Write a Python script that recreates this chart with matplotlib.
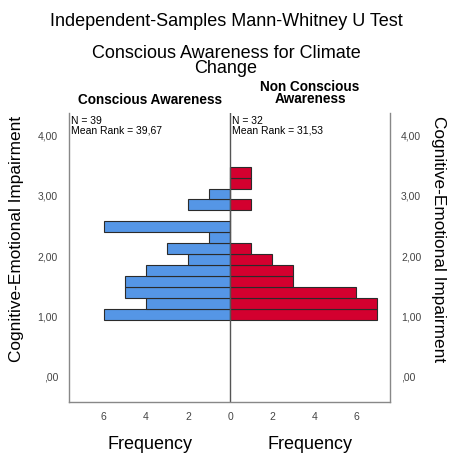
import numpy as np
import matplotlib.pyplot as plt

plt.rcParams['font.family'] = ['Liberation Sans', 'DejaVu Sans']

# histogram counts per bin, bottom to top
bin_start = 0.94
bin_width = 0.182
aware_counts = [6, 4, 5, 5, 4, 2, 3, 1, 6, 0, 2, 1, 0, 0]
non_aware_counts = [7, 7, 6, 3, 3, 2, 1, 0, 0, 0, 1, 0, 1, 1]

x_ticks = [-6, -4, -2, 0, 2, 4, 6]
x_tick_labels = ['6', '4', '2', '0', '2', '4', '6']
y_ticks = [0, 1, 2, 3, 4]
y_tick_labels = [',00', '1,00', '2,00', '3,00', '4,00']

aware_note = 'N = 39\nMean Rank = 39,67'
non_aware_note = 'N = 32\nMean Rank = 31,53'

fig = plt.figure(figsize=(4.52, 4.55), dpi=100)
ax = fig.add_axes([0.1527, 0.1165, 0.7101, 0.6351])

bottoms = bin_start + bin_width * np.arange(len(aware_counts))
ax.barh(bottoms, -np.array(aware_counts), height=bin_width, align='edge',
        color='#5596e6', edgecolor='#2b2b2b', linewidth=0.8)
ax.barh(bottoms, non_aware_counts, height=bin_width, align='edge',
        color='#d3002f', edgecolor='#2b2b2b', linewidth=0.8)

ax.axvline(0, color='#555555', linewidth=1.0)

ax.set_xlim(-7.65, 7.6)
ax.set_ylim(-0.42, 4.377)

ax.set_xticks(x_ticks)
ax.set_xticklabels(x_tick_labels)
ax.set_yticks(y_ticks)
ax.set_yticklabels(y_tick_labels)
ax.tick_params(axis='both', length=0, labelsize=7.5, labelcolor='#444444', pad=7)
ax.tick_params(axis='y', labelleft=True, labelright=True, pad=8)

for side in ['left', 'right', 'bottom']:
    ax.spines[side].set_color('#888888')
    ax.spines[side].set_linewidth(1.0)
ax.spines['top'].set_visible(False)

ax.text(-7.55, 4.33, aware_note, fontsize=7.5, va='top', ha='left', linespacing=0.95)
ax.text(0.1, 4.33, non_aware_note, fontsize=7.5, va='top', ha='left', linespacing=0.95)

fig.text(0.5, 0.952, 'Independent-Samples Mann-Whitney U Test', fontsize=13,
         ha='center', va='center')
fig.text(0.5, 0.866, 'Conscious Awareness for Climate\nChange', fontsize=13,
         ha='center', va='center', linespacing=0.85)
fig.text(0.332, 0.780, 'Conscious Awareness', fontsize=9.8, fontweight='bold',
         ha='center', va='center')
fig.text(0.686, 0.795, 'Non Conscious\nAwareness', fontsize=9.8, fontweight='bold',
         ha='center', va='center', linespacing=0.85)

fig.text(0.036, 0.475, 'Cognitive-Emotional Impairment', fontsize=12.4,
         rotation=90, ha='center', va='center')
fig.text(0.97, 0.475, 'Cognitive-Emotional Impairment', fontsize=12.4,
         rotation=270, ha='center', va='center')

fig.text(0.332, 0.022, 'Frequency', fontsize=13, ha='center', va='center')
fig.text(0.686, 0.022, 'Frequency', fontsize=13, ha='center', va='center')

plt.savefig('out.png', dpi=100)
